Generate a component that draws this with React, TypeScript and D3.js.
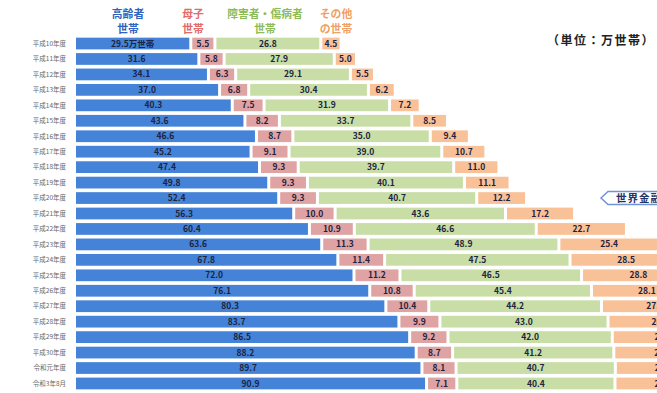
import React from "react";
import * as d3 from "d3";

const years = [
  "平成10年度", "平成11年度", "平成12年度", "平成13年度", "平成14年度", "平成15年度",
  "平成16年度", "平成17年度", "平成18年度", "平成19年度", "平成20年度", "平成21年度",
  "平成22年度", "平成23年度", "平成24年度", "平成25年度", "平成26年度", "平成27年度",
  "平成28年度", "平成29年度", "平成30年度", "令和元年度", "令和3年8月",
];
const elderly = [29.5, 31.6, 34.1, 37.0, 40.3, 43.6, 46.6, 45.2, 47.4, 49.8, 52.4, 56.3, 60.4, 63.6, 67.8, 72.0, 76.1, 80.3, 83.7, 86.5, 88.2, 89.7, 90.9];
const single = [5.5, 5.8, 6.3, 6.8, 7.5, 8.2, 8.7, 9.1, 9.3, 9.3, 9.3, 10.0, 10.9, 11.3, 11.4, 11.2, 10.8, 10.4, 9.9, 9.2, 8.7, 8.1, 7.1];
const disabled = [26.8, 27.9, 29.1, 30.4, 31.9, 33.7, 35.0, 39.0, 39.7, 40.1, 40.7, 43.6, 46.6, 48.9, 47.5, 46.5, 45.4, 44.2, 43.0, 42.0, 41.2, 40.7, 40.4];
const other = [4.5, 5.0, 5.5, 6.2, 7.2, 8.5, 9.4, 10.7, 11.0, 11.1, 12.2, 17.2, 22.7, 25.4, 28.5, 28.8, 28.1, 27.2, 26.5, 25.8, 24.9, 24.4, 24.5];

const seriesNames = [["高齢者", "世帯"], ["母子", "世帯"], ["障害者・傷病者", "世帯"], ["その他", "の世帯"]];
const seriesFill = ["#4483d8", "#e0a3a3", "#c8dea6", "#f9c197"];
const seriesHead = ["#2f63bd", "#e26a6a", "#8dbb57", "#f0a062"];
const unitLabel = "（単位：万世帯）";
const calloutText = "世界金融危機";
const calloutRow = 10;

export default function App() {
  const W = 657, H = 393;
  const x0 = 76;
  const gap = 3;
  const x = d3.scaleLinear().domain([0, 100]).range([0, 384]);
  const y = d3.scaleBand<string>().domain(years).range([35.8, 391.2]).paddingInner(0.24).paddingOuter(0.12);
  const all = [elderly, single, disabled, other];
  const font = "'Noto Sans CJK JP', 'Noto Sans', sans-serif";
  const bw = y.bandwidth();

  const headX = [128, 193, 265, 336];

  return (
    <svg width={W} height={H} style={{ position: "absolute", left: 0, top: 0, background: "#fff" }} fontFamily={font}>
      {seriesNames.map((lines, i) => (
        <g key={i}>
          {lines.map((t, j) => (
            <text key={j} x={headX[i]} y={18 + j * 14.5} textAnchor="middle" fontSize={10.8} fontWeight={700} fill={seriesHead[i]}>{t}</text>
          ))}
        </g>
      ))}
      <text x={655} y={45} textAnchor="end" fontSize={12} letterSpacing={1.5} fontWeight={700} fill="#222">{unitLabel}</text>
      {years.map((yr, r) => {
        const yy = y(yr)!;
        let cum = x0;
        return (
          <g key={yr}>
            <text x={66} y={yy + bw / 2} dy="0.35em" textAnchor="end" fontSize={6.5} fill="#666">{yr}</text>
            {all.map((s, i) => {
              const w = x(s[r]);
              const sx = cum;
              cum += w + gap;
              const label = i === 0 && r === 0 ? `${s[r].toFixed(1)}万世帯` : s[r].toFixed(1);
              return (
                <g key={i}>
                  <rect x={sx} y={yy} width={w} height={bw} fill={seriesFill[i]} />
                  <text x={sx + w / 2} y={yy + bw / 2} dy="0.36em" textAnchor="middle" fontSize={8.5} fontWeight={700} fill="#1e2340">{label}</text>
                </g>
              );
            })}
          </g>
        );
      })}
      {(() => {
        const yy = y(years[calloutRow])! + bw / 2;
        return (
          <g>
            <path d={`M601,${yy} L608,${yy - 6.5} L690,${yy - 6.5} L690,${yy + 6.5} L608,${yy + 6.5} Z`} fill="#fff" stroke="#6f94d6" strokeWidth={1.5} />
            <text x={616} y={yy} dy="0.36em" fontSize={10.5} fontWeight={700} letterSpacing={1} fill="#223366">{calloutText}</text>
          </g>
        );
      })()}
    </svg>
  );
}
